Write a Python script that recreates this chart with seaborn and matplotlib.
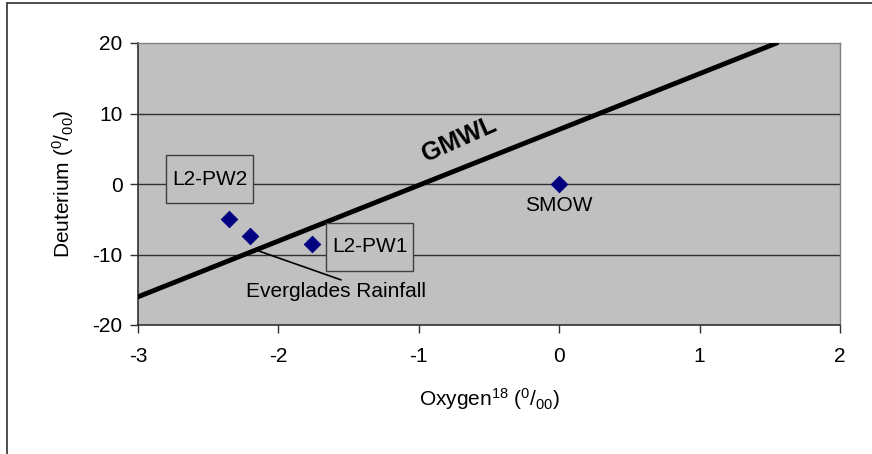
import numpy as np
import pandas as pd
import matplotlib
matplotlib.use("Agg")
import matplotlib.pyplot as plt
from matplotlib.lines import Line2D
from matplotlib.patches import Rectangle
import seaborn as sns

# data
sample_names = ["L2-PW2", "Everglades Rainfall", "L2-PW1", "SMOW"]
oxygen18 = [-2.35, -2.20, -1.76, 0.0]
deuterium = [-5.0, -7.4, -8.5, 0.0]

gmwl_x = [-3.0, 1.55]
gmwl_y = [-16.0, 20.0]

x_ticks = [-3, -2, -1, 0, 1, 2]
y_ticks = [-20, -10, 0, 10, 20]

df = pd.DataFrame({"sample": sample_names, "O18": oxygen18, "D": deuterium})

sns.set_style("white")
plt.rcParams["font.family"] = ["Liberation Sans", "DejaVu Sans"]
plt.rcParams["mathtext.fontset"] = "custom"
plt.rcParams["mathtext.rm"] = "Liberation Sans"
plt.rcParams["mathtext.it"] = "Liberation Sans"
plt.rcParams["axes.unicode_minus"] = False
plt.rcParams["text.color"] = "black"
plt.rcParams["axes.labelcolor"] = "black"
plt.rcParams["xtick.color"] = "black"
plt.rcParams["ytick.color"] = "black"

FS = 15

fig = plt.figure(figsize=(8.72, 4.54), dpi=100)
ax = fig.add_axes([138 / 872, 1 - 325 / 454, (840 - 138) / 872, (325 - 43) / 454])
ax.set_facecolor("#C0C0C0")

# horizontal gridlines
for yv in [-10, 0, 10]:
    ax.axhline(yv, color="#303030", lw=1.0, zorder=1)

sns.lineplot(x=gmwl_x, y=gmwl_y, ax=ax, color="black", lw=3.5, zorder=3)
sns.scatterplot(data=df, x="O18", y="D", ax=ax, marker="D", s=70,
                color="#000080", edgecolor="#000080", zorder=4)

ax.set_xlim(-3, 2)
ax.set_ylim(-20, 20)
ax.set_xticks(x_ticks)
ax.set_yticks(y_ticks)
ax.tick_params(axis="both", labelsize=FS, length=6, width=1, color="#303030",
               labelcolor="black", direction="out", bottom=True, left=True)
ax.tick_params(axis="x", pad=10)
ax.tick_params(axis="y", pad=5)

for side in ["left", "bottom"]:
    ax.spines[side].set_color("#303030")
    ax.spines[side].set_linewidth(1.2)
for side in ["top", "right"]:
    ax.spines[side].set_color("#808080")
    ax.spines[side].set_linewidth(1.0)

ax.set_xlabel(r"Oxygen$^{18}$ ($^{0}$/$_{00}$)", fontsize=FS, labelpad=14)
ax.set_ylabel(r"Deuterium ($^{0}$/$_{00}$)", fontsize=FS, labelpad=12)

# label boxes
for (x0, x1, y0, y1) in [(-2.80, -2.18, -2.70, 4.11), (-1.661, -1.041, -12.34, -5.53)]:
    ax.add_patch(Rectangle((x0, y0), x1 - x0, y1 - y0, fc="#C0C0C0",
                           ec="#404040", lw=1, zorder=5))
ax.text(-2.49, 0.7, "L2-PW2", fontsize=FS, ha="center", va="center", zorder=6)
ax.text(-1.351, -8.93, "L2-PW1", fontsize=FS, ha="center", va="center", zorder=6)
ax.text(0.0, -3.1, "SMOW", fontsize=FS, ha="center", va="center", zorder=5)
ax.text(-1.59, -15.3, "Everglades Rainfall", fontsize=FS, ha="center", va="center", zorder=5)
ax.plot([-2.16, -1.554], [-9.36, -13.6], color="black", lw=1.2, zorder=5)

ax.text(-0.71, 6.3, "GMWL", fontsize=18, fontweight="bold", rotation=24,
        ha="center", va="center", zorder=5)

# partial outer frame (left and top edges only)
fig.add_artist(Line2D([7 / 872, 7 / 872], [0, 1 - 3 / 454], color="#303030", lw=1.2))
fig.add_artist(Line2D([7 / 872, 1], [1 - 3 / 454, 1 - 3 / 454], color="#303030", lw=1.2))

fig.savefig("out.png", dpi=100)
